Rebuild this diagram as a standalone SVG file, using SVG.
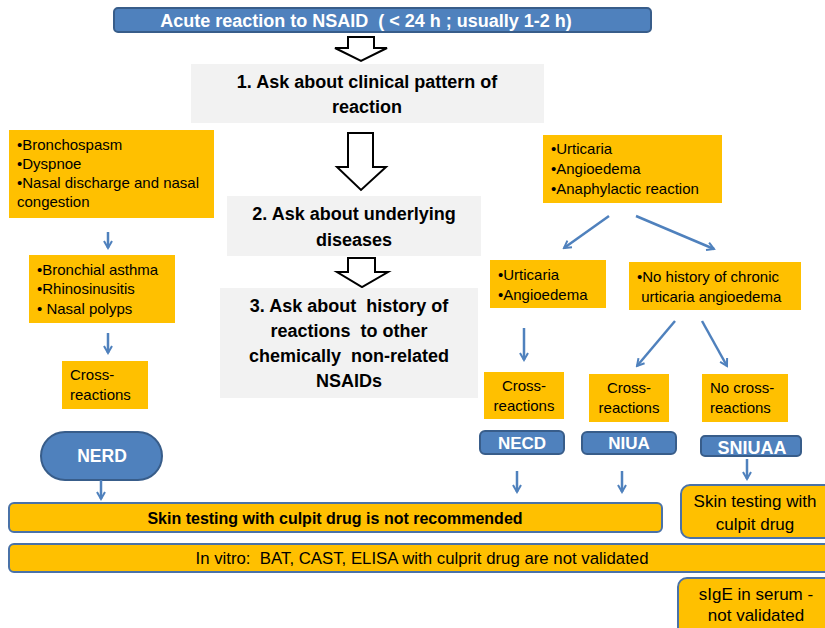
<svg xmlns="http://www.w3.org/2000/svg" width="825" height="628" viewBox="0 0 825 628">
<defs>
<style>
text{font-family:"Liberation Sans",Arial,sans-serif;white-space:pre;}
.blue{fill:#4F81BD;stroke:#385D8A;stroke-width:2;}
.gray{fill:#F2F2F2;}
.org{fill:#FFC000;}
.orgb{fill:#FFC000;stroke:#4A72A8;stroke-width:2;}
.wt{fill:#fff;font-weight:bold;text-anchor:middle;}
.bt{fill:#000;font-weight:bold;font-size:18px;text-anchor:middle;}
.t{fill:#000;font-size:15px;}
.tc{fill:#000;font-size:15px;text-anchor:middle;}
.big{fill:#000;font-size:17px;text-anchor:middle;}
.blk{fill:#fff;stroke:#000;stroke-width:2;}
.conn{stroke:#4F81BD;stroke-width:2.5;fill:none;marker-end:url(#ah);}
</style>
<marker id="ah" viewBox="0 0 10 10" refX="8" refY="5" markerWidth="4" markerHeight="4" orient="auto" markerUnits="strokeWidth">
<polyline points="1,1 8,5 1,9" fill="none" stroke="#4F81BD" stroke-width="2"/>
</marker>
</defs>

<g id="top">
<rect class="blue" x="114" y="8" width="537" height="24" rx="4"/>
<text class="wt" x="366" y="26.5" font-size="18" xml:space="preserve">Acute reaction to NSAID  ( &lt; 24 h ; usually 1-2 h)</text>
</g>

<g id="blockarrows">
<polygon class="blk" points="348,37 374,37 374,48 387,48 361,61 335,48 348,48"/>
<polygon class="blk" points="348,133 373,133 373,167 386,167 361,190 337,167 348,167"/>
<polygon class="blk" points="348,258 375,258 375,272 388,272 362,287 337,272 348,272"/>
</g>

<g id="step1">
<rect class="gray" x="191" y="64" width="353" height="59"/>
<text class="bt" x="367" y="88">1. Ask about clinical pattern of</text>
<text class="bt" x="367" y="113">reaction</text>
</g>
<g id="step2">
<rect class="gray" x="227" y="196" width="254" height="60"/>
<text class="bt" x="354" y="220">2. Ask about underlying</text>
<text class="bt" x="354" y="246">diseases</text>
</g>
<g id="step3">
<rect class="gray" x="220" y="288" width="258" height="110"/>
<text class="bt" x="349" y="312" xml:space="preserve">3. Ask about  history of</text>
<text class="bt" x="349" y="337" xml:space="preserve">reactions  to other</text>
<text class="bt" x="349" y="362" xml:space="preserve">chemically  non-related</text>
<text class="bt" x="349" y="387">NSAIDs</text>
</g>

<g id="resp">
<rect class="org" x="9" y="130" width="205" height="88"/>
<text class="t" x="17" y="150">•Bronchospasm</text>
<text class="t" x="17" y="169">•Dyspnoe</text>
<text class="t" x="17" y="188">•Nasal discharge and nasal</text>
<text class="t" x="17" y="207">congestion</text>
</g>
<g id="underlying">
<rect class="org" x="29" y="255" width="146" height="68"/>
<text class="t" x="37" y="275">•Bronchial asthma</text>
<text class="t" x="37" y="294">•Rhinosinusitis</text>
<text class="t" x="37" y="314" xml:space="preserve">• Nasal polyps</text>
</g>
<g id="cross1">
<rect class="org" x="62" y="361" width="86" height="48"/>
<text class="t" x="70" y="380">Cross-</text>
<text class="t" x="70" y="400">reactions</text>
</g>
<g id="nerd">
<rect class="blue" x="41" y="432" width="121" height="48" rx="24" stroke-width="2.5"/>
<text class="wt" x="102" y="462" font-size="17.5">NERD</text>
</g>

<g id="skin">
<rect class="org" x="543" y="135" width="179" height="68"/>
<text class="t" x="551" y="154">•Urticaria</text>
<text class="t" x="551" y="174">•Angioedema</text>
<text class="t" x="551" y="194">•Anaphylactic reaction</text>
</g>
<g id="ua">
<rect class="org" x="490" y="260" width="116" height="48"/>
<text class="t" x="498" y="280">•Urticaria</text>
<text class="t" x="498" y="300">•Angioedema</text>
</g>
<g id="nohist">
<rect class="org" x="629" y="262" width="172" height="48"/>
<text class="t" x="637" y="282">•No history of chronic</text>
<text class="t" x="637" y="302" xml:space="preserve"> urticaria angioedema</text>
</g>
<g id="cross2">
<rect class="org" x="484" y="372" width="80" height="47"/>
<text class="tc" x="524" y="391">Cross-</text>
<text class="tc" x="524" y="411">reactions</text>
</g>
<g id="cross3">
<rect class="org" x="589" y="374" width="80" height="48"/>
<text class="tc" x="629" y="393">Cross-</text>
<text class="tc" x="629" y="413">reactions</text>
</g>
<g id="nocross">
<rect class="org" x="702" y="374" width="86" height="48"/>
<text class="t" x="710" y="393">No cross-</text>
<text class="t" x="710" y="413">reactions</text>
</g>

<g id="necd">
<rect class="blue" x="480" y="431" width="84" height="23" rx="5"/>
<text class="wt" x="522" y="449" font-size="17">NECD</text>
</g>
<g id="niua">
<rect class="blue" x="582" y="432" width="94" height="22" rx="5"/>
<text class="wt" x="629" y="449" font-size="17">NIUA</text>
</g>
<g id="sniuaa">
<rect class="blue" x="701" y="436" width="100" height="20" rx="4"/>
<text class="wt" x="752" y="454" font-size="18">SNIUAA</text>
</g>

<g id="notrec">
<rect class="orgb" x="9" y="503" width="653" height="29" rx="5"/>
<text fill="#000" font-weight="bold" font-size="16" text-anchor="middle" x="335" y="524">Skin testing with culpit drug is not recommended</text>
</g>
<g id="invitro">
<rect class="orgb" x="9" y="544" width="830" height="28" rx="5"/>
<text fill="#000" font-size="16.8" text-anchor="middle" x="422" y="564" xml:space="preserve">In vitro:  BAT, CAST, ELISA with culprit drug are not validated</text>
</g>
<g id="skintest">
<rect class="orgb" x="681" y="485" width="160" height="53" rx="9"/>
<text class="big" x="755" y="507">Skin testing with</text>
<text class="big" x="755" y="530">culpit drug</text>
</g>
<g id="sige">
<rect class="orgb" x="678" y="578" width="160" height="60" rx="9"/>
<text class="big" x="756" y="600">sIgE in serum -</text>
<text class="big" x="756" y="621">not validated</text>
</g>

<g id="connectors">
<line class="conn" x1="108" y1="232" x2="108" y2="248"/>
<line class="conn" x1="108" y1="333" x2="108" y2="353"/>
<line class="conn" x1="101" y1="480" x2="101" y2="499"/>
<line class="conn" x1="609" y1="216" x2="564" y2="248"/>
<line class="conn" x1="636" y1="216" x2="714" y2="249"/>
<line class="conn" x1="524" y1="328" x2="524" y2="360"/>
<line class="conn" x1="675" y1="321" x2="637" y2="366"/>
<line class="conn" x1="702" y1="321" x2="727" y2="366"/>
<line class="conn" x1="517" y1="471" x2="517" y2="492"/>
<line class="conn" x1="622" y1="471" x2="622" y2="492"/>
<line class="conn" x1="747" y1="459" x2="747" y2="479"/>
</g>
</svg>
